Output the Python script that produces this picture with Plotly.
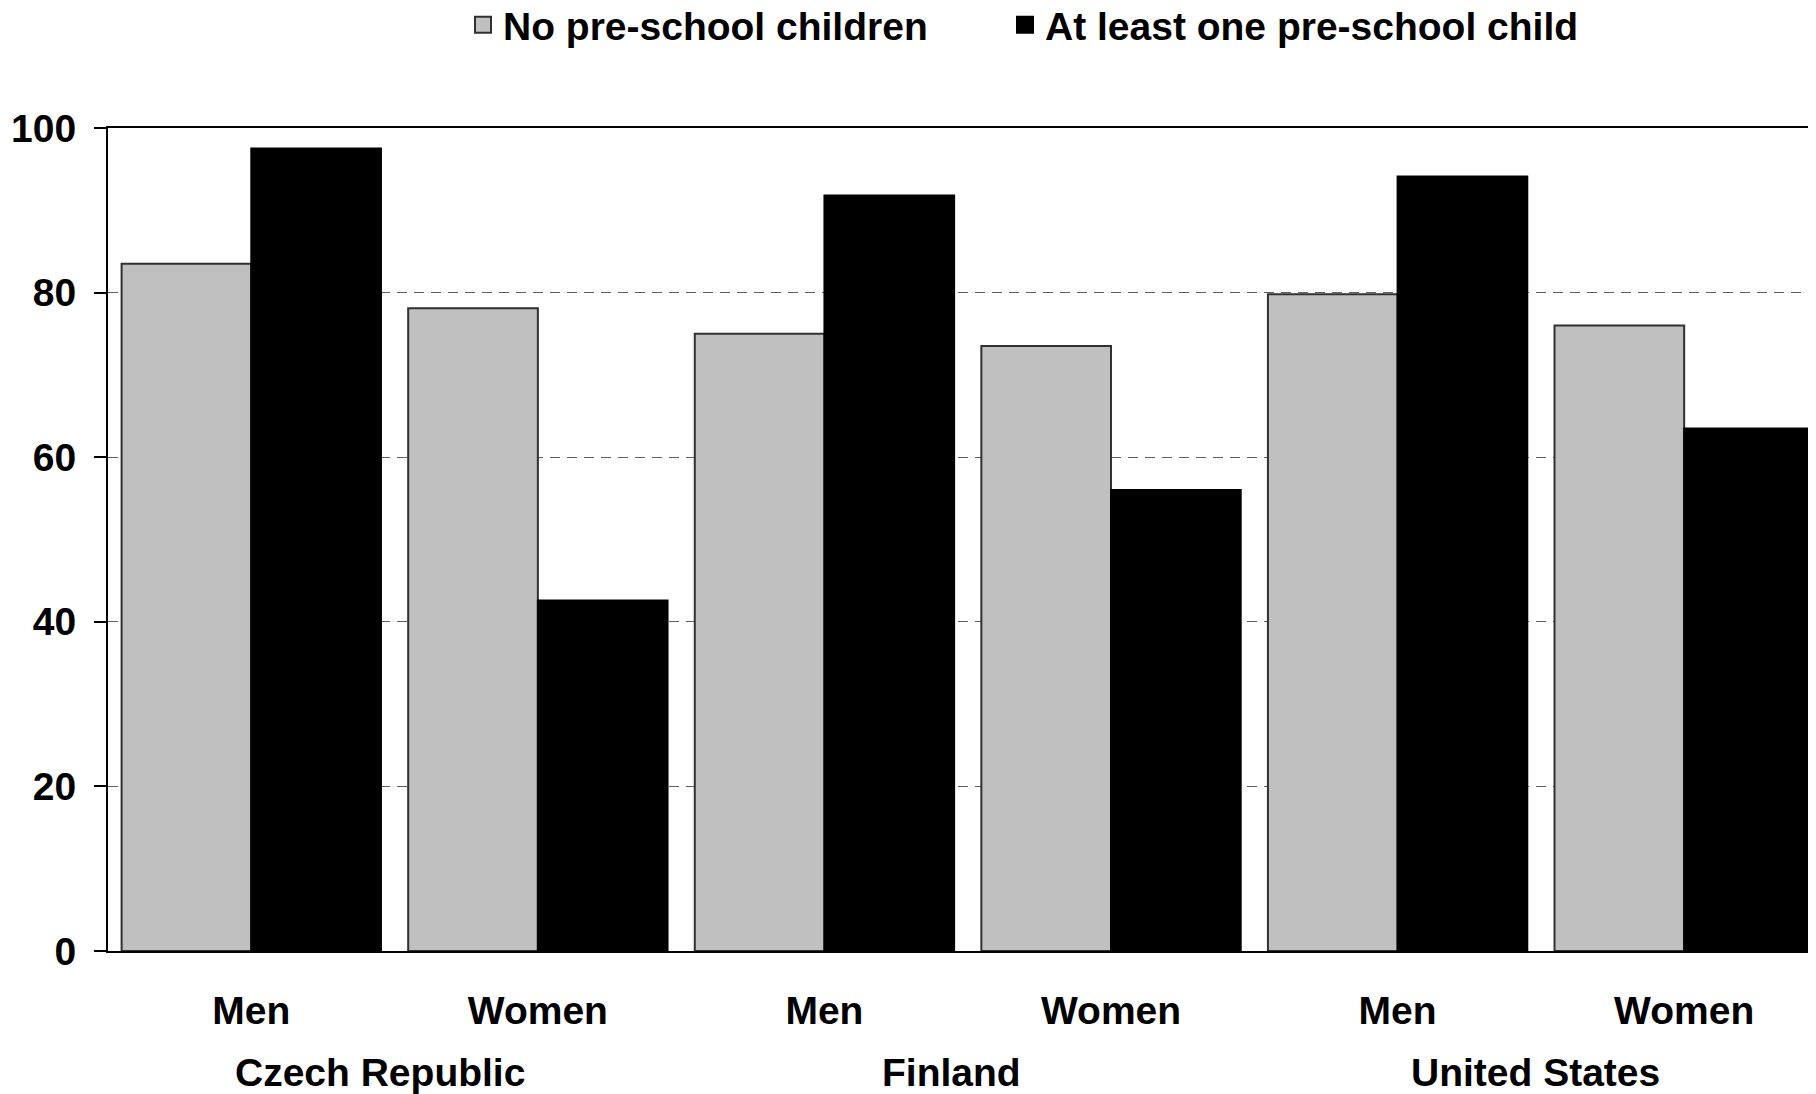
import plotly.graph_objects as go

countries = ["Czech Republic", "Finland", "United States"]
sexes = ["Men", "Women", "Men", "Women", "Men", "Women"]
no_preschool = [83.5, 78.1, 75.0, 73.5, 79.8, 76.0]
with_preschool = [97.5, 42.6, 91.8, 56.0, 94.1, 63.5]
series_names = ["No pre-school children", "At least one pre-school child"]
series_colors = ["#c0c0c0", "#000000"]
series_lines = ["#303030", "#000000"]
y_ticks = [0, 20, 40, 60, 80, 100]
title_text = "1996"

FONT = "Liberation Sans, Arial, sans-serif"
FS = 39

x_pos = list(range(len(sexes)))
country_pos = [(x_pos[2 * i] + x_pos[2 * i + 1]) / 2 for i in range(len(countries))]
country_shift = [-15, -16, -5]

legend_ids = ["legend", "legend2"]

fig = go.Figure()
for name, vals, col, lc in zip(series_names, [no_preschool, with_preschool], series_colors, series_lines):
    fig.add_trace(go.Bar(
        x=x_pos, y=vals, name=name, legendgroup=name, showlegend=False,
        marker=dict(color=col, line=dict(color=lc, width=2)),
    ))
# legend entries (bigger square symbols than the bar default)
for name, col, lc, lg in zip(series_names, series_colors, series_lines, legend_ids):
    fig.add_trace(go.Scatter(
        x=[None], y=[None], mode="markers", name=name, legendgroup=name, legend=lg,
        marker=dict(symbol="square", size=16, color=col, line=dict(color=lc, width=2)),
        hoverinfo="skip",
    ))

# the page places the figure 8px from the top-left corner
OFF = 8
W, H = 1816 - OFF, 1094 - OFF
L, T = 108 - OFF, 128 - OFF
BOTTOM = 951 - OFF
B = H - BOTTOM
plot_h = H - T - B

annotations = [dict(
    text=c, xref="x", yref="paper", x=xp, y=(951 - 1072) / plot_h, xshift=dx,
    xanchor="center", yanchor="middle", showarrow=False,
    font=dict(family=FONT, size=FS, color="black", weight="bold"),
) for c, xp, dx in zip(countries, country_pos, country_shift)]
annotations.append(dict(
    text=title_text, xref="paper", yref="paper",
    x=(30 - 108) / (1816 - 108), xanchor="left",
    y=1 + (T - 10) / plot_h, yanchor="bottom",
    showarrow=False,
    font=dict(family=FONT, size=66, color="black", weight="bold"),
))

def legend_at(page_x):
    return dict(
        orientation="h", xref="container", yref="container",
        x=(page_x - OFF) / W, xanchor="left",
        y=1 - (25 - OFF) / H, yanchor="middle",
        font=dict(family=FONT, size=FS, color="black", weight="bold"),
        itemsizing="trace", bgcolor="rgba(0,0,0,0)",
    )

fig.update_layout(
    width=W, height=H,
    margin=dict(l=L, r=0, t=T, b=B, pad=0, autoexpand=False),
    paper_bgcolor="white", plot_bgcolor="white",
    barmode="group", bargap=0.095, bargroupgap=0,
    font=dict(family=FONT, size=FS, color="black"),
    showlegend=True,
    legend=legend_at(463),
    legend2=legend_at(1005),
    xaxis=dict(
        range=[-0.5, 5.46], automargin=False,
        tickvals=x_pos, ticktext=sexes,
        showline=True, linecolor="black", linewidth=2, mirror=True,
        showgrid=False, ticks="", zeroline=False,
        tickfont=dict(family=FONT, size=FS, color="black", weight="bold"),
        ticklabelstandoff=24,
    ),
    yaxis=dict(
        range=[0, 100], tickvals=y_ticks, automargin=False,
        showline=True, linecolor="black", linewidth=2,
        ticks="outside", ticklen=12, tickcolor="black", tickwidth=1.5,
        showgrid=True, gridcolor="#606060", griddash="10px,7px", gridwidth=1,
        zeroline=False,
        tickfont=dict(family=FONT, size=FS, color="black", weight="bold"),
        ticklabelstandoff=10,
    ),
    annotations=annotations,
)

fig.write_html("out.html")
